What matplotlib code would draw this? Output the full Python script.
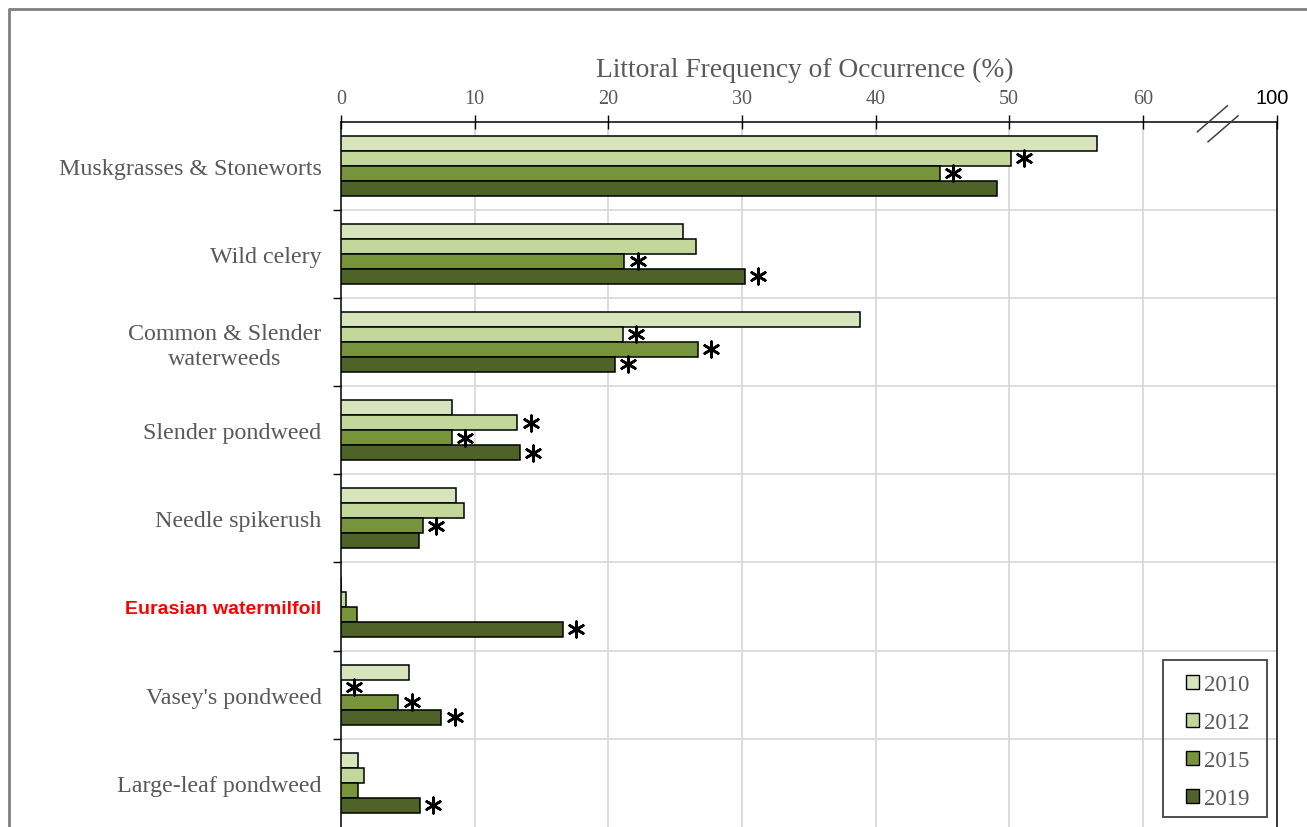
import matplotlib
matplotlib.use("Agg")
import matplotlib.pyplot as plt
from matplotlib.lines import Line2D
from matplotlib.patches import Rectangle
import numpy as np

# Littoral frequency of occurrence (%) by species and survey year
species = [
    "Muskgrasses & Stoneworts",
    "Wild celery",
    "Common & Slender\nwaterweeds",
    "Slender pondweed",
    "Needle spikerush",
    "Eurasian watermilfoil",
    "Vasey's pondweed",
    "Large-leaf pondweed",
]
years = ["2010", "2012", "2015", "2019"]
freq_2010 = [56.6, 25.6, 38.8, 8.3, 8.6, 0.0, 5.1, 1.3]
freq_2012 = [50.1, 26.6, 21.1, 13.2, 9.2, 0.4, 0.0, 1.7]
freq_2015 = [44.8, 21.2, 26.7, 8.3, 6.1, 1.2, 4.3, 1.3]
freq_2019 = [49.1, 30.2, 20.5, 13.4, 5.8, 16.6, 7.5, 5.9]

# significant change flags (asterisks)
sig_2010 = [0, 0, 0, 0, 0, 0, 0, 0]
sig_2012 = [1, 0, 1, 1, 0, 0, 1, 0]
sig_2015 = [1, 1, 1, 1, 1, 0, 1, 0]
sig_2019 = [0, 1, 1, 1, 0, 1, 1, 1]

x_ticks = [0, 10, 20, 30, 40, 50, 60]
x_break_label = "100"

colors = ["#D8E4BC", "#C4D79B", "#77933C", "#4F6228"]
series = [freq_2010, freq_2012, freq_2015, freq_2019]
flags = [sig_2010, sig_2012, sig_2015, sig_2019]

GRAY_TXT = "#595959"
SERIF = "Liberation Serif"
plt.rcParams["font.family"] = [SERIF, "DejaVu Serif"]

W, H = 1307, 828
fig = plt.figure(figsize=(W / 100, H / 100), dpi=100)
ax = fig.add_axes([341 / W, 0, (1276.5 - 341) / W, 1 - 122.5 / H])

n = len(species)
y = np.arange(n)
bar_h = 0.17
offsets = np.array([-1.5, -0.5, 0.5, 1.5]) * bar_h

for vals, flg, col, off, yr in zip(series, flags, colors, offsets, years):
    ax.barh(y + off, vals, height=bar_h, color=col, edgecolor="black",
            linewidth=1.1, label=yr, zorder=3)
    sx = [v + 1.0 for v, f in zip(vals, flg) if f]
    sy = [yy + off for yy, f in zip(y, flg) if f]
    ax.scatter(sx, sy, marker=(6, 2, 0), s=125, color="black",
               linewidths=1.9, zorder=5)

ax.set_xlim(0, 70)
ax.set_ylim(n - 0.5, -0.5)

# top x axis
ax.xaxis.tick_top()
ax.set_xticks(x_ticks + [70])
ax.set_xticklabels([str(t) for t in x_ticks] + [""])
ax.tick_params(axis="x", which="major", direction="inout", length=10,
               width=1, color="black", pad=5, labelsize=14.5,
               labelcolor=GRAY_TXT)
ax.annotate(x_break_label, xy=(70, 1), xycoords=ax.get_xaxis_transform(),
            xytext=(-4, 14), textcoords="offset pixels", ha="center",
            va="bottom", fontfamily="Liberation Sans", fontsize=14.5,
            color="black")

# category axis
ax.set_yticks(y)
ax.set_yticklabels(species, multialignment="center", linespacing=1.22)
ax.tick_params(axis="y", which="major", length=0, pad=14,
               labelsize=17.3, labelcolor=GRAY_TXT)
ax.set_yticks(np.arange(n - 1) + 0.5, minor=True)
ax.tick_params(axis="y", which="minor", direction="out", length=6,
               width=1, color="black")
lab = ax.get_yticklabels()[5]
lab.set_fontfamily("Liberation Sans")
lab.set_fontweight("bold")
lab.set_fontsize(14)
lab.set_color("#FF0000")

# grid
for xv in x_ticks[1:]:
    ax.axvline(xv, color="#D9D9D9", linewidth=1.3, zorder=1)
for yv in np.arange(n - 1) + 0.5:
    ax.axhline(yv, color="#D9D9D9", linewidth=1.3, zorder=1)

for side in ["top", "left", "right"]:
    ax.spines[side].set_color("black")
    ax.spines[side].set_linewidth(1.1)
ax.spines["bottom"].set_visible(False)

fig.text(805 / W, 1 - 76.7 / H, "Littoral Frequency of Occurrence (%)",
         ha="center", va="baseline", fontsize=19.8, color=GRAY_TXT)

# axis break marks
fig.canvas.draw()
x0 = ax.transData.transform((65.2, 0))[0]
x1 = ax.transData.transform((66.0, 0))[0]
ytop = H - 122.5
for xc, yc in [(x0, ytop + 2.7), (x1, ytop - 7.3)]:
    fig.add_artist(Line2D([xc - 15, xc + 15], [yc - 13, yc + 13],
                          transform=None, color="#404040", linewidth=1.1))

# legend (entries) and its frame
leg = ax.legend(loc="upper left", bbox_to_anchor=(1186 / W, 1 - 675 / H),
                bbox_transform=fig.transFigure, frameon=False,
                prop={"size": 16.5}, handlelength=0.55,
                handleheight=0.55, handletextpad=0.25, labelspacing=0.74,
                borderpad=0, borderaxespad=0)
for t in leg.get_texts():
    t.set_color(GRAY_TXT)
for h in leg.legend_handles:
    h.set_linewidth(1.0)
fig.add_artist(Rectangle((1163, H - 818), 1266.7 - 1163, 818 - 660.5,
                         transform=None, fill=False, edgecolor="#404040",
                         linewidth=1.3, zorder=6))

# outer frame
fig.add_artist(Line2D([9, 9, W + 5], [-5, H - 10, H - 10], transform=None,
                      color="#7F7F7F", linewidth=2.0))

fig.savefig("out.png", dpi=100)
